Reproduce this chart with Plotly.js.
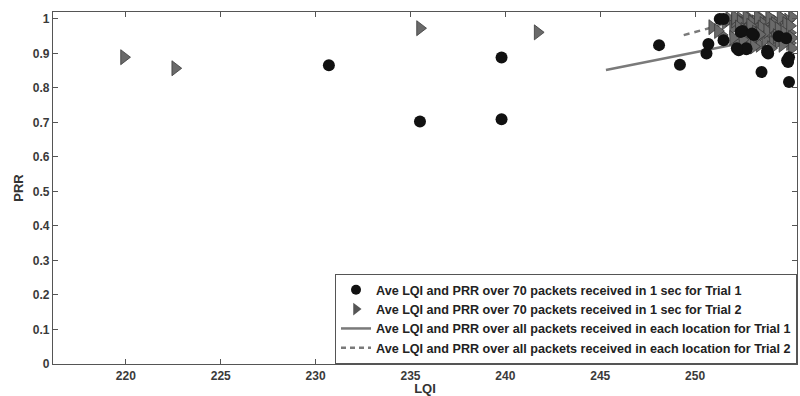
<!DOCTYPE html>
<html>
<head>
<meta charset="utf-8">
<script src="https://cdn.plot.ly/plotly-3.0.1.min.js"></script>
<style>html,body{margin:0;padding:0;background:#fff;}#chart{width:800px;height:396px;}</style>
</head>
<body>
<div id="chart"></div>
<script>
// Trial 1: average LQI / PRR over 70 packets (circles)
var lqi1 = [230.7, 235.5, 239.8, 239.8, 248.1, 249.2, 250.6, 250.7, 251.3, 251.5, 251.5, 252.3, 252.4, 252.7, 252.7, 253.1, 253.8, 253.85, 253.5, 254.85, 254.9, 254.95, 254.95, 252.5, 253.0, 252.2, 253.8, 254.4, 254.8];
var prr1 = [0.866, 0.703, 0.888, 0.709, 0.924, 0.867, 0.900, 0.927, 1.000, 1.000, 0.938, 0.909, 0.962, 0.912, 0.915, 0.953, 0.903, 0.900, 0.846, 0.880, 0.875, 0.889, 0.817, 0.965, 0.958, 0.915, 0.908, 0.950, 0.944];
// Trial 2: average LQI / PRR over 70 packets (triangles)
var lqi2 = [219.9, 222.6, 235.5, 241.7, 255.0, 250.9, 251.4, 251.6, 251.8, 252.0, 252.1, 252.3, 252.4, 252.6, 252.8, 252.9, 253.0, 253.2, 253.3, 253.5, 253.6, 253.8, 253.9, 254.0, 254.2, 254.3, 254.5, 254.6, 254.8, 254.9, 255.0, 252.2, 252.9, 253.4, 253.7, 254.1, 254.4, 254.7, 255.0, 252.5, 253.1, 254.0, 254.6, 251.2,
            252.1, 252.4, 252.7, 253.0, 253.3, 253.6, 253.9, 254.2, 254.5, 254.8, 255.1, 252.3, 252.6, 252.9, 253.2, 253.5, 253.8, 254.1, 254.4, 254.7, 255.0, 255.1, 255.1, 252.0, 253.4, 254.3];
var prr2 = [0.889, 0.857, 0.973, 0.961, 0.221, 0.976, 0.953, 0.990, 1.000, 0.975, 0.995, 0.960, 1.000, 0.985, 0.955, 1.000, 0.975, 0.990, 0.945, 1.000, 0.965, 0.985, 0.950, 1.000, 0.970, 0.990, 0.955, 1.000, 0.975, 0.995, 0.960, 0.930, 0.935, 0.925, 0.940, 0.930, 0.935, 0.945, 0.930, 0.940, 0.920, 0.915, 0.925, 0.965,
            1.005, 0.990, 1.005, 0.990, 1.005, 0.985, 1.005, 0.985, 1.005, 0.985, 1.005, 0.975, 0.968, 0.980, 0.960, 0.975, 0.965, 0.980, 0.970, 0.960, 0.980, 0.945, 0.915, 0.945, 0.955, 0.950];
// Location averages over all packets
var lineLqi1 = [245.3, 253.0];
var linePrr1 = [0.852, 0.936];
var lineLqi2 = [249.4, 252.2];
var linePrr2 = [0.953, 0.995];

var legendNames = [
  "Ave LQI and PRR over 70 packets received in 1 sec for Trial 1",
  "Ave LQI and PRR over 70 packets received in 1 sec for Trial 2",
  "Ave LQI and PRR over all packets received in each location for Trial 1",
  "Ave LQI and PRR over all packets received in each location for Trial 2"
];
var xTicks = [220, 225, 230, 235, 240, 245, 250, 255];
var yTicks = [0, 0.1, 0.2, 0.3, 0.4, 0.5, 0.6, 0.7, 0.8, 0.9, 1];
var yTickText = ["0", "0.1", "0.2", "0.3", "0.4", "0.5", "0.6", "0.7", "0.8", "0.9", "1"];

var traces = [
  {x: lineLqi1, y: linePrr1, mode: 'lines', name: legendNames[2],
   line: {color: '#7a7a7a', width: 2.5}, showlegend: false},
  {x: lineLqi2, y: linePrr2, mode: 'lines', name: legendNames[3],
   line: {color: '#7a7a7a', width: 2.5, dash: '6px,5px'}, showlegend: false},
  {x: lqi2, y: prr2, mode: 'markers', name: legendNames[1],
   marker: {symbol: 'triangle-right', size: 13, color: '#6a6a6a', line: {color: '#3a3a3a', width: 0.8}}, showlegend: false},
  {x: lqi1, y: prr1, mode: 'markers', name: legendNames[0],
   marker: {symbol: 'circle', size: 12, color: '#111111', line: {width: 0}}, showlegend: false},
  // legend entries (same series, shown in legend order)
  {x: [null], y: [null], mode: 'markers', name: legendNames[0],
   marker: {symbol: 'circle', size: 10, color: '#111111'}},
  {x: [null], y: [null], mode: 'markers', name: legendNames[1],
   marker: {symbol: 'triangle-right', size: 11, color: '#555555'}},
  {x: [null], y: [null], mode: 'lines', name: legendNames[2],
   line: {color: '#7a7a7a', width: 2.5}},
  {x: [null], y: [null], mode: 'lines', name: legendNames[3],
   line: {color: '#7a7a7a', width: 2.5, dash: '5px,4px'}}
];

var tickFont = {family: 'Liberation Sans, Arial, sans-serif', size: 12, color: '#3a3a3a', weight: 'bold'};
var layout = {
  width: 800, height: 396,
  margin: {l: 53, r: 3, t: 12, b: 32},
  paper_bgcolor: '#ffffff', plot_bgcolor: '#ffffff',
  font: {family: 'Liberation Sans, Arial, sans-serif', color: '#222'},
  xaxis: {
    range: [216.16, 255.37], tickvals: xTicks, ticktext: xTicks.map(String),
    ticks: 'inside', ticklen: 5, tickcolor: '#555', tickwidth: 1,
    showline: true, linecolor: '#555', linewidth: 1.2, mirror: 'ticks',
    showgrid: false, zeroline: false, tickfont: tickFont,
    title: {text: 'LQI', font: {family: 'Liberation Sans, Arial, sans-serif', size: 13, color: '#333', weight: 'bold'}, standoff: 2}
  },
  yaxis: {
    range: [0, 1.02], tickvals: yTicks, ticktext: yTickText,
    ticks: 'inside', ticklen: 5, tickcolor: '#555', tickwidth: 1,
    showline: true, linecolor: '#555', linewidth: 1.2, mirror: 'ticks',
    showgrid: false, zeroline: false, tickfont: tickFont,
    title: {text: 'PRR', font: {family: 'Liberation Sans, Arial, sans-serif', size: 13, color: '#333', weight: 'bold'}, standoff: 6}
  },
  legend: {
    x: 1, xanchor: 'right', y: 0, yanchor: 'bottom',
    bgcolor: '#ffffff', bordercolor: '#555', borderwidth: 1,
    font: {family: 'Liberation Sans, Arial, sans-serif', size: 12.6, color: '#222', weight: 'bold'},
    tracegroupgap: 0, itemwidth: 30
  },
  showlegend: true
};

Plotly.newPlot('chart', traces, layout, {displayModeBar: false, staticPlot: true});
</script>
</body>
</html>
